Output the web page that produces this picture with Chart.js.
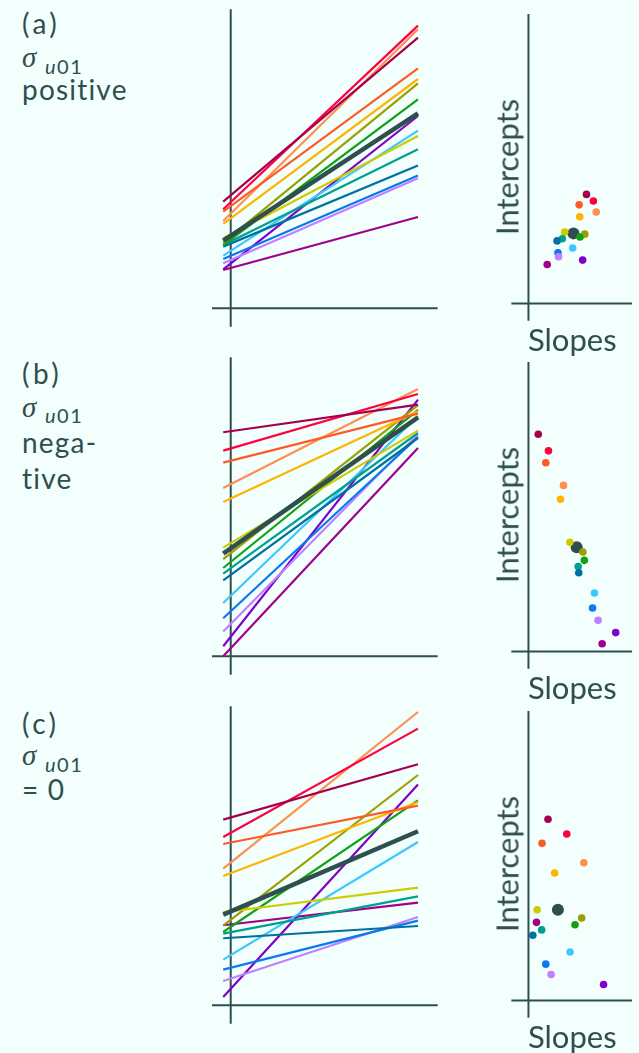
<!DOCTYPE html>
<html lang="en">
<head>
<meta charset="UTF-8">
<title>Random intercepts and slopes</title>
<script src="https://cdn.jsdelivr.net/npm/chart.js"></script>
<style>
  body { margin: 0; background: #f2fffd; }
  #page { position: relative; width: 639px; height: 1053px; overflow: hidden;
          font-family: Lato, sans-serif; color: #2f4f4f; }
  canvas { position: absolute; }
  .lab { position: absolute; font-size: 28px; line-height: 1; white-space: nowrap; letter-spacing: 1.2px; }
  .lab.tag { letter-spacing: 3.5px; }
  .sig { position: absolute; font-family: "Liberation Serif", serif; font-style: italic;
         font-size: 29px; line-height: 1; }
  .sub { position: absolute; font-size: 20px; line-height: 1; letter-spacing: 1.5px; }
  .sub i { font-style: italic; }
  .ax { position: absolute; font-size: 31px; line-height: 1; white-space: nowrap; }
  .ax.v { transform: translate(-50%, -50%) rotate(-90deg); }
</style>
</head>
<body>
<div id="page">
  <!-- panel (a) -->
  <div class="lab tag" style="left:22px; top:8.5px">(a)</div>
  <div class="sig" style="left:22px; top:42.5px">σ</div>
  <div class="sub" style="left:45px; top:56.3px"><i>u</i>01</div>
  <div class="lab" style="left:22px; top:75.2px">positive</div>
  <canvas id="lineA" width="240" height="340" style="left:200px; top:0px"></canvas>
  <canvas id="dotsA" width="149" height="340" style="left:490px; top:0px"></canvas>
  <div class="ax v" style="left:507px; top:167px">Intercepts</div>
  <div class="ax" style="left:528px; top:324px">Slopes</div>

  <!-- panel (b) -->
  <div class="lab tag" style="left:22px; top:358.5px">(b)</div>
  <div class="sig" style="left:22px; top:392.5px">σ</div>
  <div class="sub" style="left:45px; top:405px"><i>u</i>01</div>
  <div class="lab" style="left:22px; top:428.2px">nega-</div>
  <div class="lab" style="left:22px; top:464.2px">tive</div>
  <canvas id="lineB" width="240" height="340" style="left:200px; top:348px"></canvas>
  <canvas id="dotsB" width="149" height="340" style="left:490px; top:348px"></canvas>
  <div class="ax v" style="left:507px; top:515px">Intercepts</div>
  <div class="ax" style="left:528px; top:672px">Slopes</div>

  <!-- panel (c) -->
  <div class="lab tag" style="left:22px; top:708.5px">(c)</div>
  <div class="sig" style="left:22px; top:741px">σ</div>
  <div class="sub" style="left:45px; top:754px"><i>u</i>01</div>
  <div class="lab" style="left:22px; top:775.2px">= 0</div>
  <canvas id="lineC" width="240" height="340" style="left:200px; top:697px"></canvas>
  <canvas id="dotsC" width="149" height="340" style="left:490px; top:697px"></canvas>
  <div class="ax v" style="left:507px; top:864px">Intercepts</div>
  <div class="ax" style="left:528px; top:1021px">Slopes</div>
</div>

<script>
// colours of the 15 groups, and the thick average line
const groupColors = ['#a6004d', '#ff0040', '#ff5a26', '#ff8f50', '#ffb400', '#cccc00', '#9aa000',
                     '#14a014', '#00a090', '#0070a0', '#3cc8ff', '#0a78f0', '#c080ff', '#8000cc', '#a0008c'];
const meanColor = '#2f4f4f';
const ink = '#2f4f4f';

// x positions where each group's line starts and ends
const lineX = [-0.04, 1];

// (a) positive covariance
const interceptsA = [113.0, 106.1, 102.2, 94.7, 89.9, 73.9, 71.8, 68.9, 67.0, 64.8, 57.5, 52.5, 48.3, 44.9, 40.3];
const slopesA     = [157.7, 176.6, 137.8, 184.3, 139.4, 98.4, 153.2, 140.1, 92.0, 77.9, 120.2, 80.2, 81.7, 147.4, 51.0];
const meanA = { intercept: 72.6, slope: 122.4 };

// (b) negative covariance
const interceptsB = [225.1, 207.9, 195.6, 172.1, 157.8, 113.2, 103.1, 94.4, 88.1, 81.5, 60.5, 45.0, 32.3, 19.5, 8.0];
const slopesB     = [26.6, 54.4, 47.1, 95.2, 87.2, 112.5, 148.0, 152.0, 135.2, 136.8, 179.5, 174.3, 189.4, 237.2, 200.3];
const meanB = { intercept: 107.9, slope: 131.1 };

// (c) zero covariance
const interceptsC = [187.8, 172.5, 162.8, 142.7, 132.1, 94.0, 85.5, 78.4, 73.1, 67.5, 50.2, 37.6, 26.8, 16.5, 80.9];
const slopesC     = [53.2, 104.2, 36.9, 150.6, 71.2, 23.7, 144.8, 126.6, 35.9, 11.8, 113.1, 47.1, 61.5, 204.2, 21.8];
const meanC = { intercept: 93.9, slope: 80.1 };

// axes that cross at zero and run a little past each other
const crossAxes = {
  id: 'crossAxes',
  beforeDatasetsDraw(chart, args, opts) {
    const { ctx, scales: { x, y } } = chart;
    ctx.save();
    ctx.strokeStyle = ink;
    ctx.lineWidth = 2;
    ctx.beginPath();
    ctx.moveTo(x.getPixelForValue(0), y.getPixelForValue(opts.y[0]));
    ctx.lineTo(x.getPixelForValue(0), y.getPixelForValue(opts.y[1]));
    ctx.moveTo(x.getPixelForValue(opts.x[0]), y.getPixelForValue(0));
    ctx.lineTo(x.getPixelForValue(opts.x[1]), y.getPixelForValue(0));
    ctx.stroke();
    ctx.restore();
  }
};

function baseOptions(xMin, xMax, axisX, axisY) {
  return {
    responsive: false,
    animation: false,
    events: [],
    layout: { padding: 0 },
    scales: {
      x: { type: 'linear', display: false, min: xMin, max: xMax },
      y: { type: 'linear', display: false, min: -31.7, max: 308.3 }
    },
    plugins: {
      legend: { display: false },
      tooltip: { enabled: false },
      crossAxes: { x: axisX, y: axisY }
    }
  };
}

function drawLines(id, intercepts, slopes, mean) {
  const seg = (b, s) => lineX.map(x => ({ x: x, y: b + s * x }));
  // first dataset is painted last, so the average line sits on top
  const datasets = [{ data: seg(mean.intercept, mean.slope), borderColor: meanColor, borderWidth: 4.5 }];
  intercepts.forEach((b, i) => {
    datasets.push({ data: seg(b, slopes[i]), borderColor: groupColors[i], borderWidth: 2.2 });
  });
  datasets.forEach(d => { d.showLine = true; d.pointRadius = 0; d.borderCapStyle = 'butt'; });
  new Chart(document.getElementById(id), {
    type: 'scatter',
    data: { datasets: datasets },
    options: baseOptions(-0.164, 1.1175, [-0.1, 1.105], [-18.4, 299]),
    plugins: [crossAxes]
  });
}

function drawDots(id, intercepts, slopes, mean) {
  new Chart(document.getElementById(id), {
    type: 'scatter',
    data: {
      datasets: [
        {
          data: intercepts.map((b, i) => ({ x: slopes[i], y: b })),
          pointBackgroundColor: groupColors,
          pointBorderWidth: 0,
          pointRadius: 3.8
        },
        {
          data: [{ x: mean.slope, y: mean.intercept }],
          pointBackgroundColor: meanColor,
          pointBorderWidth: 0,
          pointRadius: 6
        }
      ]
    },
    options: baseOptions(-88.25, 284.25, [-46.5, 281.75], [-18, 300]),
    plugins: [crossAxes]
  });
}

drawLines('lineA', interceptsA, slopesA, meanA);
drawDots('dotsA', interceptsA, slopesA, meanA);
drawLines('lineB', interceptsB, slopesB, meanB);
drawDots('dotsB', interceptsB, slopesB, meanB);
drawLines('lineC', interceptsC, slopesC, meanC);
drawDots('dotsC', interceptsC, slopesC, meanC);
</script>
</body>
</html>
